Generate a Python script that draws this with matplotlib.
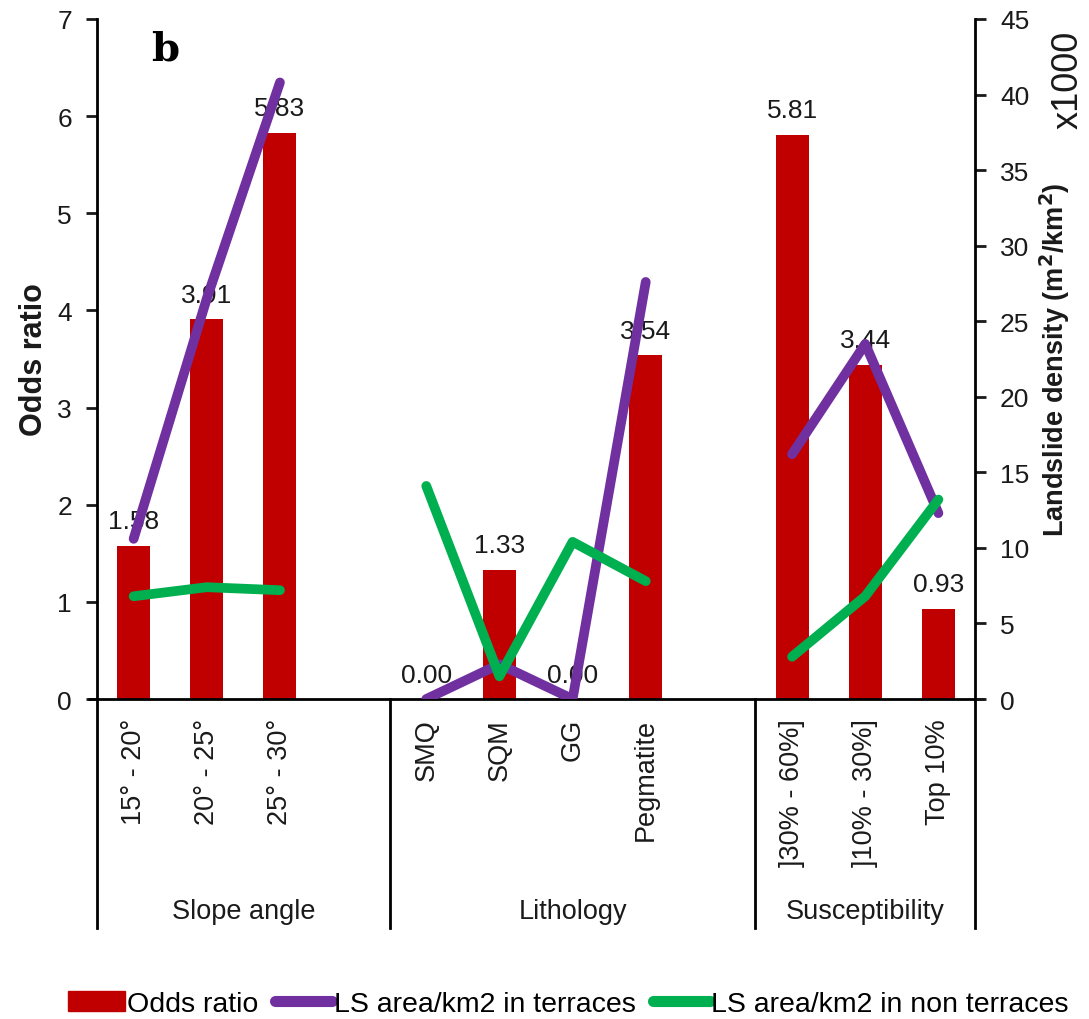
import numpy as np
import matplotlib
matplotlib.use("Agg")
import matplotlib.pyplot as plt
from matplotlib.patches import Patch
from matplotlib.lines import Line2D
import matplotlib.transforms as mtransforms

plt.rcParams['font.family'] = ['Liberation Sans', 'DejaVu Sans']

# ---- data ----
groups = ["Slope angle", "Lithology", "Susceptibility"]
slope_cats = ["15° - 20°", "20° - 25°", "25° - 30°"]
litho_cats = ["SMQ", "SQM", "GG", "Pegmatite"]
susc_cats = ["]30% - 60%]", "]10% - 30%]", "Top 10%"]

slope_odds = [1.58, 3.91, 5.83]
litho_odds = [0.00, 1.33, 0.00, 3.54]
susc_odds = [5.81, 3.44, 0.93]

slope_terr = [10.6, 26.5, 40.8]
litho_terr = [0.0, 2.3, 0.0, 27.6]
susc_terr = [16.2, 23.5, 12.3]

slope_nonterr = [6.8, 7.4, 7.2]
litho_nonterr = [14.1, 1.5, 10.4, 7.8]
susc_nonterr = [2.8, 6.8, 13.2]

cats_by_group = [slope_cats, litho_cats, susc_cats]
odds_by_group = [slope_odds, litho_odds, susc_odds]
terr_by_group = [slope_terr, litho_terr, susc_terr]
nonterr_by_group = [slope_nonterr, litho_nonterr, susc_nonterr]

RED = "#C00000"
PURPLE = "#7030A0"
GREEN = "#00B050"
TXT = "#1a1a1a"

fig = plt.figure(figsize=(10.89, 10.2), dpi=100)
ax = fig.add_axes([0.0891, 0.3137, 0.8062, 0.6667])
ax2 = ax.twinx()

# positions: each group followed by one empty slot
pos_groups = []
start = 0
for cats in cats_by_group:
    pos_groups.append(list(range(start, start + len(cats))))
    start += len(cats) + 1
# group boundaries
bounds = [-0.5, 3.5, 8.5, 11.5]

for p, cats, odds, terr, nonterr in zip(pos_groups, cats_by_group, odds_by_group,
                                        terr_by_group, nonterr_by_group):
    ax.bar(p, odds, width=0.45, color=RED, zorder=2)
    for xi, v in zip(p, odds):
        ax.annotate(f"{v:.2f}", (xi, v), xytext=(0, 9), textcoords="offset points",
                    ha="center", va="bottom", fontsize=19, color=TXT)
    ax2.plot(p, terr, color=PURPLE, lw=7, solid_capstyle="round", solid_joinstyle="round", zorder=3)
    ax2.plot(p, nonterr, color=GREEN, lw=7, solid_capstyle="round", solid_joinstyle="round", zorder=3)

ax.set_xlim(-0.5, 11.5)
ax.set_ylim(0, 7)
ax2.set_ylim(0, 45)
ax.set_yticks(range(0, 8))
ax2.set_yticks(range(0, 46, 5))

for a in (ax, ax2):
    a.spines["top"].set_visible(False)
    a.spines["left"].set_linewidth(2)
    a.spines["right"].set_linewidth(2)
    a.spines["bottom"].set_visible(False)
ax.spines["right"].set_visible(False)
ax2.spines["left"].set_visible(False)

ax.tick_params(axis="y", direction="out", length=8, width=2, labelsize=19, pad=10, colors=TXT)
ax2.tick_params(axis="y", direction="out", length=8, width=2, labelsize=19, pad=10, colors=TXT)
ax.set_xticks([])

ax.set_ylabel("Odds ratio", fontsize=22, fontweight="bold", labelpad=6, color=TXT)
ax2.set_ylabel("Landslide density (m$^\\mathbf{2}$/km$^\\mathbf{2}$)", fontsize=19.5,
               fontweight="bold", labelpad=6, color=TXT)
fig.text(0.981, 0.922, "x1000", rotation=90, fontsize=26, ha="center", va="center", color=TXT)

ax.text(0.062, 0.985, "b", transform=ax.transAxes, fontsize=29, fontweight="bold",
        family="DejaVu Serif", va="top", ha="left")

trans = mtransforms.blended_transform_factory(ax.transData, ax.transAxes)
# baseline axis line extending slightly past both spines
ax.plot([-0.62, 11.62], [0, 0], transform=trans, color="black", lw=2, clip_on=False,
        solid_capstyle="butt", zorder=5)
for b in bounds:
    ax.plot([b, b], [0, -0.336], transform=trans, color="black", lw=2, clip_on=False)

for p, cats in zip(pos_groups, cats_by_group):
    for xi, c in zip(p, cats):
        ax.text(xi, -0.028, c, transform=trans, rotation=90, ha="center", va="top",
                fontsize=19.5, color=TXT)
for g, lo, hi in zip(groups, bounds[:-1], bounds[1:]):
    ax.text((lo + hi) / 2, -0.312, g, transform=trans, ha="center", va="center",
            fontsize=19.5, color=TXT)

handles = [Patch(color=RED), Line2D([], [], color=PURPLE, lw=8, solid_capstyle="round"),
           Line2D([], [], color=GREEN, lw=8, solid_capstyle="round")]
labels = ["Odds ratio", "LS area/km2 in terraces", "LS area/km2 in non terraces"]
fig.legend(handles, labels, loc="center", bbox_to_anchor=(0.522, 0.015), ncol=3, frameon=False,
           handlelength=2.0, handletextpad=0.05, columnspacing=0.6,
           prop={"family": ["Liberation Sans"], "size": 20.5})

fig.savefig("out.png", dpi=100)
